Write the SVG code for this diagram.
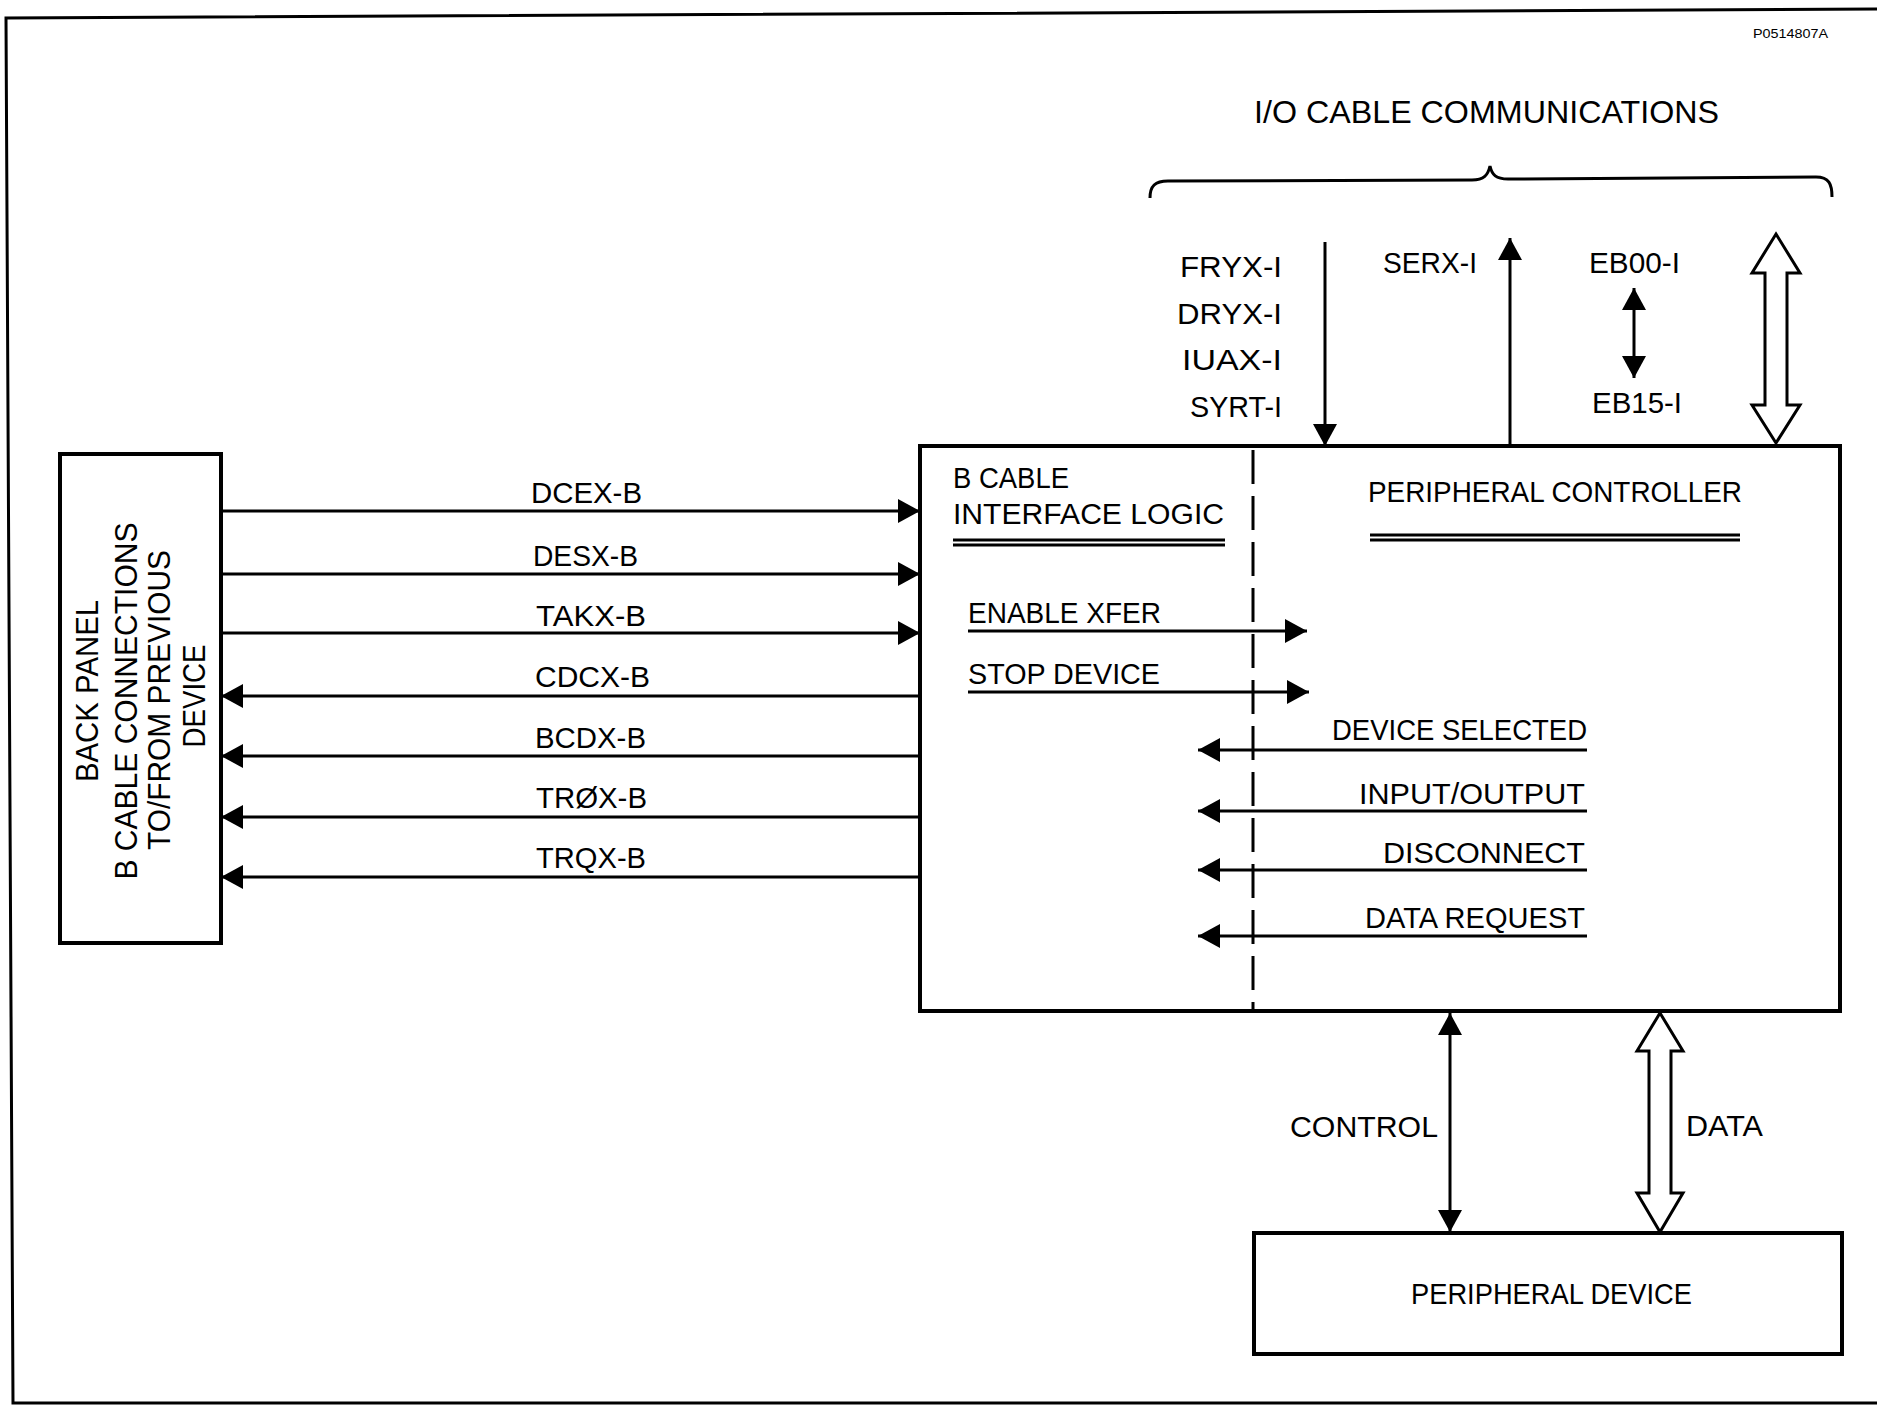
<svg xmlns="http://www.w3.org/2000/svg" width="1877" height="1405" viewBox="0 0 1877 1405">
<style>
  .t { font-family: "Liberation Sans", Arial, sans-serif; font-size: 30px; fill: #000; }
  .big { font-size: 32px; }
  .rot { font-size: 31px; }
  .small { font-size: 12px; }
  .ln { stroke: #000; stroke-width: 3; fill: none; }
  .box { stroke: #000; stroke-width: 4; fill: #fff; }
  .hollow { stroke: #000; stroke-width: 3; fill: #fff; stroke-linejoin: miter; }
  .dash { stroke: #000; stroke-width: 3; stroke-dasharray: 34 12; fill: none; }
</style>
<defs>
  <marker id="ah" markerUnits="userSpaceOnUse" markerWidth="22" markerHeight="24" refX="22" refY="12" orient="auto-start-reverse">
    <path d="M0,0 L22,12 L0,24 Z" fill="#000"/>
  </marker>
</defs>
<rect x="0" y="0" width="1877" height="1405" fill="#fff"/>
<path class="ln" d="M1877,9 L6,18 L13,1403 L1877,1403"/>
<text class="t small" x="1753" y="38" textLength="75" lengthAdjust="spacingAndGlyphs">P0514807A</text>

<g id="io-cable-communications">
  <text class="t big" x="1254" y="123" textLength="465" lengthAdjust="spacingAndGlyphs">I/O CABLE COMMUNICATIONS</text>
  <path class="ln" d="M1150,198 C1150,186 1155,181 1168,181 L1472,180 C1484,180 1488,175 1490,166 C1492,175 1496,179 1508,179 L1816,177 C1829,177 1832,184 1832,197"/>
</g>

<g id="back-panel">
  <rect class="box" x="60" y="454" width="161" height="489"/>
  <text class="t rot" transform="translate(98,691) rotate(-90)" text-anchor="middle" textLength="182" lengthAdjust="spacingAndGlyphs">BACK PANEL</text>
  <text class="t rot" transform="translate(137,701) rotate(-90)" text-anchor="middle" textLength="357" lengthAdjust="spacingAndGlyphs">B CABLE CONNECTIONS</text>
  <text class="t rot" transform="translate(170,700) rotate(-90)" text-anchor="middle" textLength="300" lengthAdjust="spacingAndGlyphs">TO/FROM PREVIOUS</text>
  <text class="t rot" transform="translate(205,696) rotate(-90)" text-anchor="middle" textLength="103" lengthAdjust="spacingAndGlyphs">DEVICE</text>
</g>

<g id="controller">
  <rect class="box" x="920" y="446" width="920" height="565"/>
  <line class="dash" x1="1253" y1="450" x2="1253" y2="1009"/>
  <g id="b-cable-interface-logic">
    <text class="t" x="953" y="488" textLength="116" lengthAdjust="spacingAndGlyphs">B CABLE</text>
    <text class="t" x="953" y="524" textLength="271" lengthAdjust="spacingAndGlyphs">INTERFACE LOGIC</text>
    <line class="ln" x1="953" y1="540" x2="1225" y2="540" stroke-width="2.5"/>
    <line class="ln" x1="953" y1="545" x2="1225" y2="545" stroke-width="2.5"/>
  </g>
  <g id="peripheral-controller">
    <text class="t" x="1368" y="502" textLength="374" lengthAdjust="spacingAndGlyphs">PERIPHERAL CONTROLLER</text>
    <line class="ln" x1="1370" y1="535" x2="1740" y2="535" stroke-width="2.5"/>
    <line class="ln" x1="1370" y1="540" x2="1740" y2="540" stroke-width="2.5"/>
  </g>
</g>

<g id="peripheral-device">
  <rect class="box" x="1254" y="1233" width="588" height="121"/>
  <text class="t" x="1411" y="1304" textLength="281" lengthAdjust="spacingAndGlyphs">PERIPHERAL DEVICE</text>
</g>

<g id="connectors">
  <line class="ln" x1="221" y1="511" x2="920" y2="511" marker-end="url(#ah)"/>
  <line class="ln" x1="221" y1="574" x2="920" y2="574" marker-end="url(#ah)"/>
  <line class="ln" x1="221" y1="633" x2="920" y2="633" marker-end="url(#ah)"/>
  <line class="ln" x1="920" y1="696" x2="221" y2="696" marker-end="url(#ah)"/>
  <line class="ln" x1="920" y1="756" x2="221" y2="756" marker-end="url(#ah)"/>
  <line class="ln" x1="920" y1="817" x2="221" y2="817" marker-end="url(#ah)"/>
  <line class="ln" x1="920" y1="877" x2="221" y2="877" marker-end="url(#ah)"/>
  <text class="t" x="531" y="503" textLength="111" lengthAdjust="spacingAndGlyphs">DCEX-B</text>
  <text class="t" x="533" y="566" textLength="105" lengthAdjust="spacingAndGlyphs">DESX-B</text>
  <text class="t" x="536" y="626" textLength="110" lengthAdjust="spacingAndGlyphs">TAKX-B</text>
  <text class="t" x="535" y="687" textLength="115" lengthAdjust="spacingAndGlyphs">CDCX-B</text>
  <text class="t" x="535" y="748" textLength="111" lengthAdjust="spacingAndGlyphs">BCDX-B</text>
  <text class="t" x="536" y="808" textLength="111" lengthAdjust="spacingAndGlyphs">TRØX-B</text>
  <text class="t" x="536" y="868" textLength="110" lengthAdjust="spacingAndGlyphs">TRQX-B</text>

  <line class="ln" x1="968" y1="631" x2="1307" y2="631" marker-end="url(#ah)"/>
  <line class="ln" x1="968" y1="692" x2="1309" y2="692" marker-end="url(#ah)"/>
  <line class="ln" x1="1587" y1="750" x2="1198" y2="750" marker-end="url(#ah)"/>
  <line class="ln" x1="1587" y1="811" x2="1198" y2="811" marker-end="url(#ah)"/>
  <line class="ln" x1="1587" y1="870" x2="1198" y2="870" marker-end="url(#ah)"/>
  <line class="ln" x1="1587" y1="936" x2="1198" y2="936" marker-end="url(#ah)"/>
  <text class="t" x="968" y="623" textLength="193" lengthAdjust="spacingAndGlyphs">ENABLE XFER</text>
  <text class="t" x="968" y="684" textLength="192" lengthAdjust="spacingAndGlyphs">STOP DEVICE</text>
  <text class="t" x="1332" y="740" textLength="255" lengthAdjust="spacingAndGlyphs">DEVICE SELECTED</text>
  <text class="t" x="1359" y="804" textLength="226" lengthAdjust="spacingAndGlyphs">INPUT/OUTPUT</text>
  <text class="t" x="1383" y="863" textLength="202" lengthAdjust="spacingAndGlyphs">DISCONNECT</text>
  <text class="t" x="1365" y="928" textLength="220" lengthAdjust="spacingAndGlyphs">DATA REQUEST</text>

  <line class="ln" x1="1325" y1="242" x2="1325" y2="446" marker-end="url(#ah)"/>
  <line class="ln" x1="1510" y1="446" x2="1510" y2="238" marker-end="url(#ah)"/>
  <line class="ln" x1="1634" y1="288" x2="1634" y2="378" marker-start="url(#ah)" marker-end="url(#ah)"/>
  <path class="hollow" d="M1776,234 L1800,273 L1787,273 L1787,405 L1800,405 L1776,443 L1752,405 L1765,405 L1765,273 L1752,273 Z"/>
  <text class="t" x="1180" y="277" textLength="102" lengthAdjust="spacingAndGlyphs">FRYX-I</text>
  <text class="t" x="1177" y="324" textLength="105" lengthAdjust="spacingAndGlyphs">DRYX-I</text>
  <text class="t" x="1182" y="370" textLength="100" lengthAdjust="spacingAndGlyphs">IUAX-I</text>
  <text class="t" x="1190" y="417" textLength="92" lengthAdjust="spacingAndGlyphs">SYRT-I</text>
  <text class="t" x="1383" y="273" textLength="94" lengthAdjust="spacingAndGlyphs">SERX-I</text>
  <text class="t" x="1589" y="273" textLength="91" lengthAdjust="spacingAndGlyphs">EB00-I</text>
  <text class="t" x="1592" y="413" textLength="90" lengthAdjust="spacingAndGlyphs">EB15-I</text>

  <line class="ln" x1="1450" y1="1013" x2="1450" y2="1232" marker-start="url(#ah)" marker-end="url(#ah)"/>
  <path class="hollow" d="M1660,1013 L1683,1051 L1671,1051 L1671,1193 L1683,1193 L1660,1232 L1637,1193 L1649,1193 L1649,1051 L1637,1051 Z"/>
  <text class="t" x="1290" y="1137" textLength="148" lengthAdjust="spacingAndGlyphs">CONTROL</text>
  <text class="t" x="1686" y="1136" textLength="77" lengthAdjust="spacingAndGlyphs">DATA</text>
</g>
</svg>
